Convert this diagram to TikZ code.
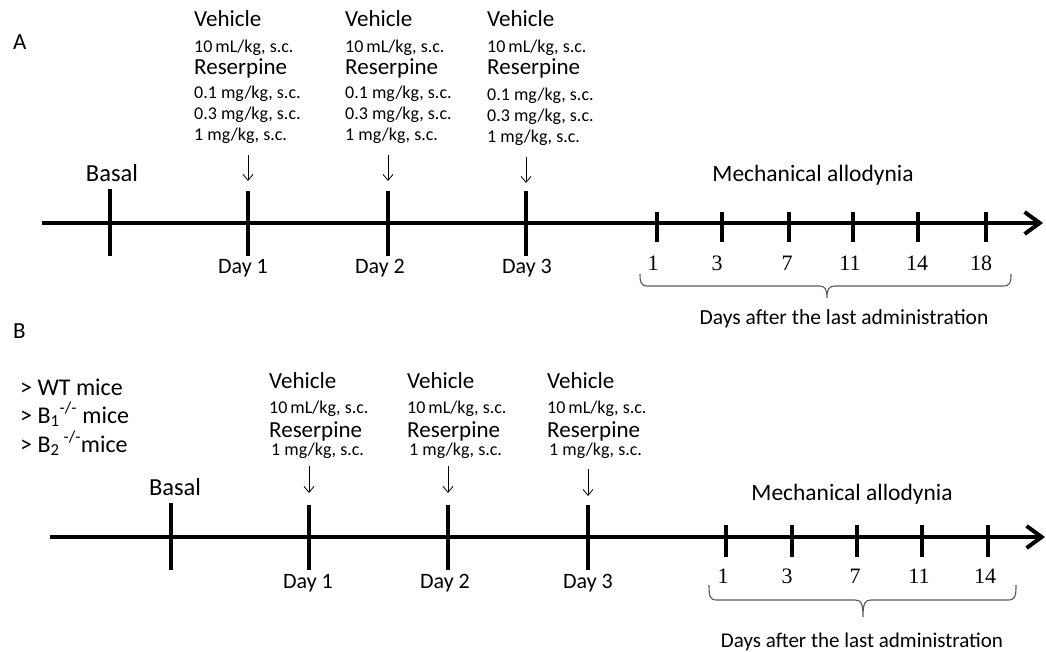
\documentclass[tikz,border=0pt]{standalone}
\usepackage{fontspec}
\setmainfont{Carlito}
\newfontfamily\serifnum{Liberation Serif}
\usetikzlibrary{arrows.meta}
\begin{document}
\begin{tikzpicture}[x=1pt,y=-1pt,
  big/.style={font=\fontsize{23}{27}\selectfont, inner sep=0pt},
  title/.style={font=\fontsize{23.5}{27}\selectfont, inner sep=0pt},
  group/.style={font=\fontsize{24}{28}\selectfont, inner sep=0pt},
  daylab/.style={font=\fontsize{22}{26}\selectfont, inner sep=0pt},
  basal/.style={font=\fontsize{24.5}{28}\selectfont, inner sep=0pt},
  volume/.style={font=\fontsize{18}{21}\selectfont, inner sep=0pt},
  small/.style={font=\fontsize{18}{21}\selectfont, inner sep=0pt},
  noteA/.style={font=\fontsize{21.5}{25}\selectfont, inner sep=0pt},
  noteB/.style={font=\fontsize{21}{25}\selectfont, inner sep=0pt},
  num/.style={font=\serifnum\fontsize{22}{26}\selectfont, inner sep=0pt},
  axis/.style={line width=4pt, -{Straight Barb[length=15pt,width=22pt]}},
  stem/.style={line width=3.5pt},
  dose/.style={line width=0.8pt, -{Straight Barb[length=6pt,width=10pt]}},
  bracket/.style={line width=1.1pt, draw=black!65}]
\useasboundingbox (0,0) rectangle (1046,652);

% ---------------- Panel A ----------------
\node[big, anchor=base west] (labA) at (13,50) {A};

\coordinate (aS) at (42,223);
\coordinate (aE) at (1043,223);
\draw[axis] (aS) -- (aE);

% basal measurement
\node[basal, anchor=base] (basalA) at (112,182) {Basal};
\coordinate (bAt) at (110,189); \coordinate (bAb) at (110,256);
\draw[stem] (bAt) -- (bAb);

% dosing days
\foreach \n/\x/\lx/\dl/\dy in {1/248/194/243/0, 2/388/345/380/0, 3/526/487/527/2}{
  \node[big, anchor=base west] (vehA\n) at (\lx,27) {Vehicle};
  \node[volume, anchor=base west] (vdA\n) at (\lx,53) {10\,mL/kg, s.c.};
  \node[big, anchor=base west] (resA\n) at (\lx,75) {Reserpine};
  \node[small, anchor=base west] (r1A\n) at (\lx,99+\dy) {0.1 mg/kg, s.c.};
  \node[small, anchor=base west] (r2A\n) at (\lx,120+\dy) {0.3 mg/kg, s.c.};
  \node[small, anchor=base west] (r3A\n) at (\lx,141+\dy) {1 mg/kg, s.c.};
  \coordinate (arA\n) at (\x,155+\dy);
  \coordinate (atA\n) at (\x,181+\dy);
  \draw[dose] (arA\n) -- (atA\n);
  \coordinate (dtA\n) at (\x,191); \coordinate (dbA\n) at (\x,256);
  \draw[stem] (dtA\n) -- (dbA\n);
  \node[daylab, anchor=base] (dayA\n) at (\dl,273) {Day \n};
}

% follow-up measurements
\node[title, anchor=base] (mechA) at (813,182) {Mechanical allodynia};
\foreach \x/\nx/\d in {657/653/1, 722/717/3, 789/787/7, 853/850/11, 918/917/14, 986/981/18}{
  \coordinate (ftA\d) at (\x,212); \coordinate (fbA\d) at (\x,242);
  \draw[stem] (ftA\d) -- (fbA\d);
  \node[num, anchor=base] (nA\d) at (\nx,270) {\d};
}
\draw[bracket] (640,274) .. controls (640,283) and (641,286) .. (648,286) -- (819,286)
  .. controls (825,286) and (827,289) .. (827,298)
  .. controls (827,289) and (829,286) .. (835,286) -- (1003,286)
  .. controls (1010,286) and (1011,283) .. (1011,274);
\node[noteA, anchor=base] (daysA) at (844,324) {Days after the last administration};

% ---------------- Panel B ----------------
\node[big, anchor=base west] (labB) at (13,338) {B};

\node[group, anchor=base west] (wt) at (20,395) {> WT mice};
\node[group, anchor=base west] (bone) at (20,423) {> B\textsubscript{1}\textsuperscript{-/-} mice};
\node[group, anchor=base west] (btwo) at (20,452) {> B\textsubscript{2}\,\textsuperscript{-/-}mice};

\coordinate (bS) at (50,537);
\coordinate (bE) at (1045,537);
\draw[axis] (bS) -- (bE);

\node[basal, anchor=base] (basalB) at (175,495) {Basal};
\coordinate (bBt) at (171,503); \coordinate (bBb) at (171,570);
\draw[stem] (bBt) -- (bBb);

\foreach \n/\x/\lx/\dl/\dy in {1/309/269/308/0, 2/448/407/445/0, 3/588/547/588/3}{
  \node[big, anchor=base west] (vehB\n) at (\lx,388) {Vehicle};
  \node[volume, anchor=base west] (vdB\n) at (\lx,413) {10\,mL/kg, s.c.};
  \node[big, anchor=base west] (resB\n) at (\lx,437) {Reserpine};
  \node[small, anchor=base west] (r3B\n) at (\lx+2,455) {1 mg/kg, s.c.};
  \coordinate (arB\n) at (\x,466+\dy);
  \coordinate (atB\n) at (\x,493+\dy);
  \draw[dose] (arB\n) -- (atB\n);
  \coordinate (dtB\n) at (\x,505); \coordinate (dbB\n) at (\x,570);
  \draw[stem] (dtB\n) -- (dbB\n);
  \node[daylab, anchor=base] (dayB\n) at (\dl,588) {Day \n};
}

\node[title, anchor=base] (mechB) at (852,500) {Mechanical allodynia};
\foreach \x/\nx/\d in {726/723/1, 792/787/3, 857/855/7, 922/919/11, 988/985/14}{
  \coordinate (ftB\d) at (\x,525); \coordinate (fbB\d) at (\x,557);
  \draw[stem] (ftB\d) -- (fbB\d);
  \node[num, anchor=base] (nB\d) at (\nx,583) {\d};
}
\draw[bracket] (709,585) .. controls (709,597) and (710,600) .. (717,600) -- (855,600)
  .. controls (861,600) and (863,603) .. (863,617)
  .. controls (863,603) and (865,600) .. (871,600) -- (1008,600)
  .. controls (1015,600) and (1016,597) .. (1016,585);
\node[noteB, anchor=base] (daysB) at (862,647) {Days after the last administration};
\end{tikzpicture}
\end{document}
